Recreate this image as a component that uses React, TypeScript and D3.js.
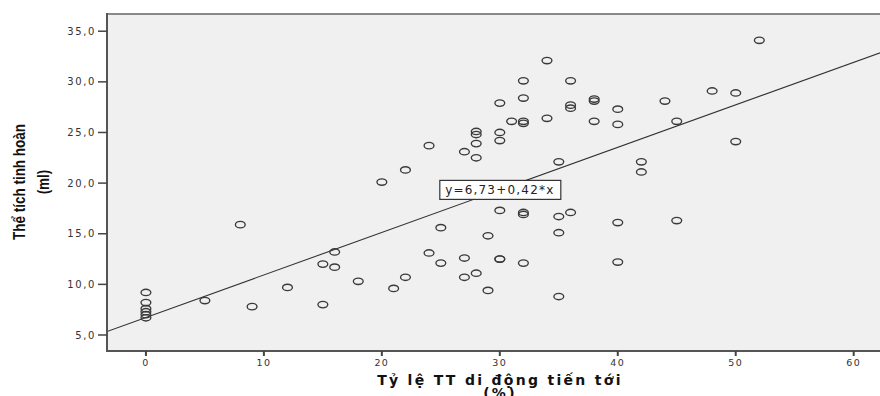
import React from "react";
import * as d3 from "d3";

const motility: number[] = [
  0, 0, 0, 0, 0, 0, 5, 8, 9, 12,
  15, 15, 16, 16, 18, 20, 21, 22, 22, 24,
  24, 25, 25, 27, 27, 27, 28, 28, 28, 28,
  28, 29, 29, 30, 30, 30, 30, 30, 30, 31,
  32, 32, 32, 32, 32, 32, 32, 34, 34, 35,
  35, 35, 35, 36, 36, 36, 36, 38, 38, 38,
  40, 40, 40, 40, 42, 42, 44, 45, 45, 48,
  50, 50, 52,
];
const volume: number[] = [
  9.2, 8.2, 7.6, 7.3, 7.0, 6.7, 8.4, 15.9, 7.8, 9.7,
  12.0, 8.0, 13.2, 11.7, 10.3, 20.1, 9.6, 21.3, 10.7, 23.7,
  13.1, 15.6, 12.1, 23.1, 12.6, 10.7, 25.1, 24.8, 23.9, 22.5,
  11.1, 14.8, 9.4, 27.9, 25.0, 24.2, 17.3, 12.5, 12.5, 26.1,
  30.1, 28.4, 26.1, 25.9, 17.1, 16.9, 12.1, 32.1, 26.4, 22.1,
  16.7, 15.1, 8.8, 30.1, 27.7, 27.4, 17.1, 28.3, 28.1, 26.1,
  27.3, 25.8, 16.1, 12.2, 22.1, 21.1, 28.1, 26.1, 16.3, 29.1,
  28.9, 24.1, 34.1,
];
const xTicks: number[] = [0, 10, 20, 30, 40, 50, 60];
const yTicks: number[] = [5, 10, 15, 20, 25, 30, 35];
const intercept = 6.73;
const slope = 0.42;
const fitLabel = "y=6,73+0,42*x";
const labelAtX = 30;
const xTitle = ["Tỷ lệ TT di động tiến tới", "(%)"];
const yTitle = ["Thể tích tinh hoàn", "(ml)"];

const W = 880;
const H = 396;
const plotLeft = 107;
const plotTop = 14;
const plotBottom = 351;
const plotRight = 882;

export default function App() {
  const x = d3.scaleLinear().domain([-3.3, 62.4]).range([plotLeft, plotRight]);
  const y = d3.scaleLinear().domain([3.42, 36.7]).range([plotBottom, plotTop]);
  const [x0, x1] = x.domain();
  const fit = d3.line<number>().x((d) => x(d)).y((d) => y(intercept + slope * d));
  const fmt = (v: number) => v.toFixed(1).replace(".", ",");
  const lx = x(labelAtX);
  const ly = y(intercept + slope * labelAtX);
  const tickFont = "'DejaVu Sans', Verdana, sans-serif";

  return (
    <svg
      width={W}
      height={H}
      style={{ position: "absolute", left: 0, top: 0, display: "block", background: "#fff" }}
    >
      <defs>
        <clipPath id="plotClip">
          <rect x={plotLeft} y={plotTop} width={plotRight - plotLeft} height={plotBottom - plotTop} />
        </clipPath>
      </defs>
      <rect x={plotLeft} y={plotTop} width={plotRight - plotLeft} height={plotBottom - plotTop} fill="#f0f0f0" />
      <line x1={plotLeft} x2={plotRight} y1={plotTop} y2={plotTop} stroke="#8a8a8a" strokeWidth={2} />
      <g clipPath="url(#plotClip)">
        <path d={fit([x0, x1]) || ""} fill="none" stroke="#333" strokeWidth={1.1} />
        {motility.map((m, i) => (
          <ellipse
            key={i}
            cx={x(m)}
            cy={y(volume[i])}
            rx={4.9}
            ry={3.2}
            fill="none"
            stroke="#3a3a3a"
            strokeWidth={1.35}
          />
        ))}
      </g>
      <line x1={plotLeft} x2={plotLeft} y1={plotTop - 1} y2={plotBottom + 1} stroke="#555" strokeWidth={2} />
      <line x1={plotLeft} x2={plotRight} y1={plotBottom} y2={plotBottom} stroke="#555" strokeWidth={2} />
      {yTicks.map((t) => (
        <g key={t}>
          <line x1={plotLeft - 9} x2={plotLeft} y1={y(t)} y2={y(t)} stroke="#444" strokeWidth={1.5} />
          <text
            x={plotLeft - 11}
            y={y(t)}
            dy="0.35em"
            textAnchor="end"
            fontFamily={tickFont}
            fontSize={10}
            letterSpacing={1.6}
            fill="#333"
          >
            {fmt(t)}
          </text>
        </g>
      ))}
      {xTicks.map((t) => (
        <g key={t}>
          <line x1={x(t)} x2={x(t)} y1={plotBottom} y2={plotBottom + 5} stroke="#444" strokeWidth={2} />
          <text
            x={x(t)}
            y={plotBottom + 15}
            textAnchor="middle"
            fontFamily={tickFont}
            fontSize={9.5}
            letterSpacing={1.4}
            fill="#333"
          >
            {t}
          </text>
        </g>
      ))}
      <g>
        <rect x={lx - 60} y={ly - 9.5} width={121} height={19} fill="#fff" stroke="#333" strokeWidth={1.2} />
        <text
          x={lx}
          y={ly}
          dy="0.36em"
          textAnchor="middle"
          fontFamily={tickFont}
          fontSize={12}
          letterSpacing={1.2}
          fill="#222"
        >
          {fitLabel}
        </text>
      </g>
      <text
        textAnchor="middle"
        fontFamily="'DejaVu Sans', Verdana, sans-serif"
        fontWeight="bold"
        fontSize={14}
        letterSpacing={2.3}
        fill="#111"
      >
        <tspan x={500} y={385}>{xTitle[0]}</tspan>
        <tspan x={500} y={398}>{xTitle[1]}</tspan>
      </text>
      <text
        transform={`translate(0, 182) rotate(-90) scale(0.9, 1.1)`}
        textAnchor="middle"
        fontFamily="'Liberation Sans Narrow', 'Arial Narrow', 'Liberation Sans', sans-serif"
        fontWeight="bold"
        fontSize={15}
        fill="#111"
      >
        <tspan x={0} y={23}>{yTitle[0]}</tspan>
        <tspan x={0} y={45}>{yTitle[1]}</tspan>
      </text>
    </svg>
  );
}
